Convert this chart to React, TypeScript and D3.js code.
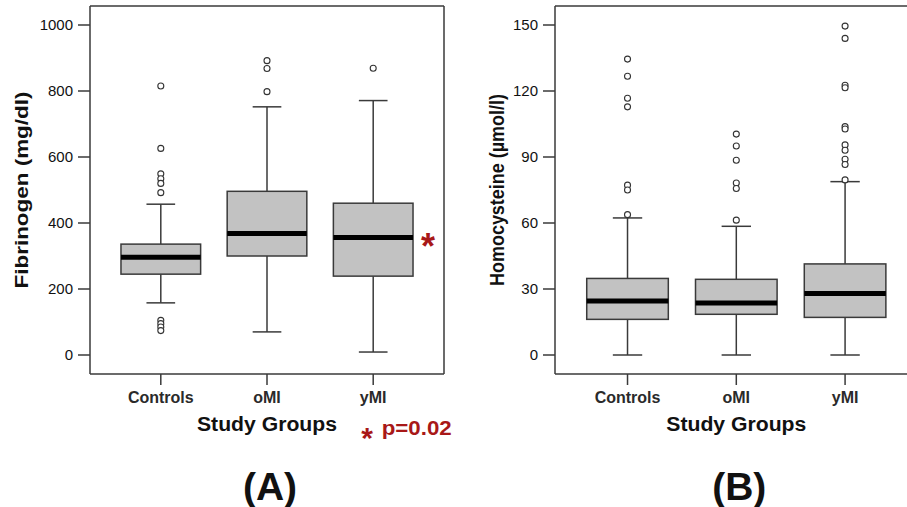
import React from "react";
import * as d3 from "d3";

const groups = ["Controls", "oMI", "yMI"];

// Panel A: Fibrinogen (mg/dl)
const fibQ1 = [245, 300, 239];
const fibMedian = [296, 368, 356];
const fibQ3 = [336, 496, 460];
const fibLow = [158, 70, 9];
const fibHigh = [457, 752, 771];
const fibOutliers = [
  [815, 626, 549, 534, 520, 492, 105, 95, 85, 74],
  [892, 868, 798],
  [869],
];
const fibTicks = [0, 200, 400, 600, 800, 1000];

// Panel B: Homocysteine (µmol/l)
const hcyQ1 = [16.2, 18.5, 17.1];
const hcyMedian = [24.5, 23.6, 27.9];
const hcyQ3 = [34.8, 34.4, 41.4];
const hcyLow = [0, 0, 0];
const hcyHigh = [62.3, 58.5, 78.8];
const hcyOutliers = [
  [134.5, 126.7, 116.7, 112.8, 77.2, 75, 63.8],
  [100.4, 95, 88.5, 78.2, 75.7, 61.3],
  [149.5, 143.9, 122.6, 121.5, 103.8, 102.7, 95.5, 93.1, 89, 86.6, 79.6],
];
const hcyTicks = [0, 30, 60, 90, 120, 150];

const FONT = "'Liberation Sans', Arial, sans-serif";
const STROKE = "#3a3a3a";
const RED = "#a81818";

type PanelProps = {
  left: number;
  right: number;
  top: number;
  bottom: number;
  domainMax: number;
  ticks: number[];
  q1: number[];
  median: number[];
  q3: number[];
  low: number[];
  high: number[];
  outliers: number[][];
  title: string;
  titleLen: number;
  titleX: number;
  titleSize: number;
  letter: string;
};

function Panel(p: PanelProps) {
  const x = d3.scalePoint<string>().domain(groups).range([p.left, p.right]).padding(2 / 3);
  const y = d3.scaleLinear().domain([0, p.domainMax]).range([355, 25]);
  const step = x.step();
  const bw = step * 0.75;
  const cw = step * 0.27;
  const cx = (p.left + p.right) / 2;
  return (
    <g>
      {/* frame */}
      <line x1={p.left} x2={p.left} y1={p.top} y2={p.bottom} stroke={STROKE} strokeWidth={1.5} />
      <line x1={p.left} x2={p.right} y1={p.top} y2={p.top} stroke={STROKE} strokeWidth={1.5} />
      <line x1={p.left} x2={p.right} y1={p.bottom} y2={p.bottom} stroke={STROKE} strokeWidth={1.5} />
      <line x1={p.right} x2={p.right} y1={p.top} y2={p.bottom} stroke={STROKE} strokeWidth={1.5} />
      {/* y ticks */}
      {p.ticks.map((t) => (
        <g key={t}>
          <line x1={p.left - 12} x2={p.left} y1={y(t)} y2={y(t)} stroke={STROKE} strokeWidth={1.5} />
          <text x={p.left - 17} y={y(t)} dy="0.35em" textAnchor="end" fontFamily={FONT} fontSize={15} fill="#111">
            {t}
          </text>
        </g>
      ))}
      {/* x ticks */}
      {groups.map((g) => (
        <g key={g}>
          <line x1={x(g)} x2={x(g)} y1={p.bottom} y2={p.bottom + 11} stroke={STROKE} strokeWidth={1.5} />
          <text x={x(g)} y={403} textAnchor="middle" fontFamily={FONT} fontSize={16} fontWeight="bold" fill="#2a2a2a">
            {g}
          </text>
        </g>
      ))}
      {/* boxes */}
      {groups.map((g, i) => {
        const gx = x(g) as number;
        return (
          <g key={g}>
            <line x1={gx} x2={gx} y1={y(p.high[i])} y2={y(p.q3[i])} stroke={STROKE} strokeWidth={1.5} />
            <line x1={gx} x2={gx} y1={y(p.q1[i])} y2={y(p.low[i])} stroke={STROKE} strokeWidth={1.5} />
            <line x1={gx - cw / 2} x2={gx + cw / 2} y1={y(p.high[i])} y2={y(p.high[i])} stroke={STROKE} strokeWidth={1.5} />
            <line x1={gx - cw / 2} x2={gx + cw / 2} y1={y(p.low[i])} y2={y(p.low[i])} stroke={STROKE} strokeWidth={1.5} />
            <rect
              x={gx - bw / 2}
              y={y(p.q3[i])}
              width={bw}
              height={y(p.q1[i]) - y(p.q3[i])}
              fill="#c2c2c2"
              stroke={STROKE}
              strokeWidth={1.5}
            />
            <line x1={gx - bw / 2} x2={gx + bw / 2} y1={y(p.median[i])} y2={y(p.median[i])} stroke="#000" strokeWidth={5} />
            {p.outliers[i].map((v, k) => (
              <circle key={k} cx={gx} cy={y(v)} r={3} fill="#fff" stroke="#333" strokeWidth={1.1} />
            ))}
          </g>
        );
      })}
      {/* titles */}
      <text
        transform={`translate(${p.titleX},${190}) rotate(-90)`}
        textAnchor="middle"
        fontFamily={FONT}
        fontSize={p.titleSize}
        fontWeight="bold"
        fill="#111"
        textLength={p.titleLen}
        lengthAdjust="spacingAndGlyphs"
      >
        {p.title}
      </text>
      <text
        x={(x(groups[0]) as number + (x(groups[2]) as number)) / 2}
        y={430.5}
        textAnchor="middle"
        fontFamily={FONT}
        fontSize={20}
        fontWeight="bold"
        fill="#111"
        textLength={140}
        lengthAdjust="spacingAndGlyphs"
      >
        Study Groups
      </text>
      <text x={cx + 3} y={500} textAnchor="middle" fontFamily={FONT} fontSize={39} fontWeight="bold" fill="#111">
        {p.letter}
      </text>
    </g>
  );
}

export default function App() {
  return (
    <div style={{ position: "absolute", left: 0, top: 0 }}>
      <svg width={907} height={507} style={{ display: "block", background: "#fff" }}>
        <Panel
          left={90}
          right={444}
          top={6}
          bottom={374}
          domainMax={1000}
          ticks={fibTicks}
          q1={fibQ1}
          median={fibMedian}
          q3={fibQ3}
          low={fibLow}
          high={fibHigh}
          outliers={fibOutliers}
          title="Fibrinogen (mg/dl)"
          titleLen={197}
          titleX={28}
          titleSize={19}
          letter="(A)"
        />
        <Panel
          left={555}
          right={917.6}
          top={6}
          bottom={374}
          domainMax={150}
          ticks={hcyTicks}
          q1={hcyQ1}
          median={hcyMedian}
          q3={hcyQ3}
          low={hcyLow}
          high={hcyHigh}
          outliers={hcyOutliers}
          title="Homocysteine (µmol/l)"
          titleLen={192}
          titleX={504}
          titleSize={20}
          letter="(B)"
        />
        {/* significance markers */}
        <text x={428} y={259} textAnchor="middle" fontFamily={FONT} fontSize={36} fontWeight="bold" fill={RED}>
          *
        </text>
        <text x={367} y={448} textAnchor="middle" fontFamily={FONT} fontSize={30} fontWeight="bold" fill={RED}>
          *
        </text>
        <text
          x={381.7}
          y={435}
          fontFamily={FONT}
          fontSize={21}
          fontWeight="bold"
          fill={RED}
          textLength={70}
          lengthAdjust="spacingAndGlyphs"
        >
          p=0.02
        </text>
      </svg>
    </div>
  );
}
